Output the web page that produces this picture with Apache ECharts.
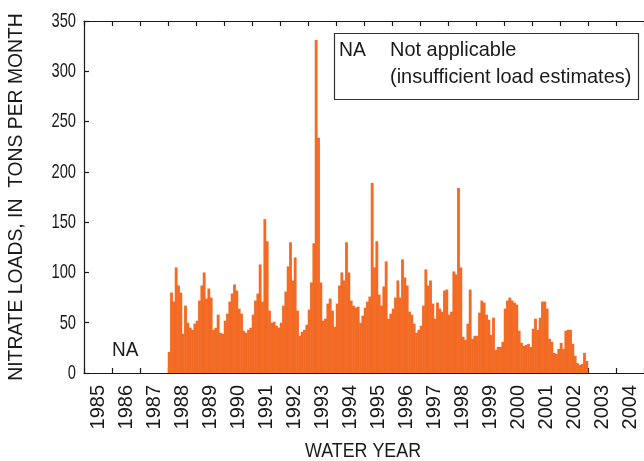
<!DOCTYPE html>
<html>
<head>
<meta charset="utf-8">
<script src="https://cdn.jsdelivr.net/npm/echarts@6/dist/echarts.min.js"></script>
<style>
  html, body { margin: 0; padding: 0; background: #fff; }
  #chart { width: 644px; height: 461px; }
</style>
</head>
<body>
<div id="chart"></div>
<script>
// Water years shown on the axis
const waterYears = ['1985','1986','1987','1988','1989','1990','1991','1992','1993','1994',
                    '1995','1996','1997','1998','1999','2000','2001','2002','2003','2004'];
const monthNames = ['Oct','Nov','Dec','Jan','Feb','Mar','Apr','May','Jun','Jul','Aug','Sep'];
// Load axis tick labels (tons per month)
const loadTicks = [0, 50, 100, 150, 200, 250, 300, 350];

// Monthly nitrate loads (tons per month), October through September of each water year
const wy1988 = [21, 80, 71, 105, 87, 80, 39, 67, 50, 45, 43, 49];
const wy1989 = [52, 72, 87, 100, 74, 84, 75, 43, 45, 58, 40, 39];
const wy1990 = [52, 59, 71, 79, 88, 82, 64, 59, 42, 40, 43, 45];
const wy1991 = [58, 72, 79, 108, 71, 153, 131, 62, 50, 51, 47, 45];
const wy1992 = [50, 67, 81, 106, 130, 92, 115, 62, 37, 41, 43, 48];
const wy1993 = [63, 90, 129, 331, 234, 90, 52, 54, 69, 74, 62, 46];
const wy1994 = [69, 87, 100, 92, 130, 100, 72, 67, 65, 66, 50, 57];
const wy1995 = [65, 71, 76, 189, 105, 131, 78, 67, 86, 111, 54, 59];
const wy1996 = [64, 75, 92, 75, 113, 95, 87, 61, 58, 49, 40, 43];
const wy1997 = [47, 67, 103, 87, 92, 69, 54, 70, 64, 61, 82, 83];
const wy1998 = [58, 61, 101, 98, 184, 105, 36, 33, 49, 83, 34, 37];
const wy1999 = [37, 60, 72, 70, 58, 53, 38, 55, 23, 26, 26, 31];
const wy2000 = [64, 72, 75, 72, 70, 68, 42, 30, 27, 28, 29, 26];
const wy2001 = [44, 54, 43, 55, 71, 71, 64, 34, 31, 20, 19, 24];
const wy2002 = [30, 24, 42, 43, 43, 29, 17, 10, 8, 9, 20, 12];

const loadsByYear = {
  '1988': wy1988, '1989': wy1989, '1990': wy1990, '1991': wy1991, '1992': wy1992,
  '1993': wy1993, '1994': wy1994, '1995': wy1995, '1996': wy1996, '1997': wy1997,
  '1998': wy1998, '1999': wy1999, '2000': wy2000, '2001': wy2001, '2002': wy2002
};

// One category per month across all water years; months without estimates get no bar
const months = [];
const loads = [];
waterYears.forEach(function (y) {
  const vals = loadsByYear[y];
  monthNames.forEach(function (m, i) {
    if (vals) loads.push([months.length, vals[i]]);
    months.push(y + ' ' + m);
  });
});

const FONT = "'Liberation Sans', Arial, sans-serif";
const INK = '#1a1a1a';
const BAR = '#f26a23';

const chart = echarts.init(document.getElementById('chart'), null, { renderer: 'canvas' });

const axisLineStyle = { color: INK, width: 1.2 };

// Monthly bars fill their whole month, overlapping a hair so neighbours join
function renderMonthBar(params, api) {
  const top = api.coord([api.value(0), api.value(1)]);
  const base = api.coord([api.value(0), 0]);
  const w = api.size([1, 0])[0];
  return {
    type: 'rect',
    shape: { x: top[0] - w / 2 - 0.25, y: top[1], width: w + 0.5, height: base[1] - top[1] },
    style: { fill: BAR }
  };
}

chart.setOption({
  animation: false,
  backgroundColor: '#ffffff',
  grid: { left: 84, right: -3, top: 21, bottom: 88, containLabel: false },
  xAxis: [
    { type: 'category', data: months, show: false, boundaryGap: true },
    {
      type: 'category',
      data: waterYears,
      position: 'bottom',
      boundaryGap: true,
      axisLine: { show: true, lineStyle: axisLineStyle },
      axisTick: { show: true, inside: true, length: 5, interval: 0, alignWithLabel: false, lineStyle: axisLineStyle },
      axisLabel: { interval: 0, rotate: 90, margin: 12, fontFamily: FONT, fontSize: 20, color: INK }
    },
    {
      type: 'category',
      data: waterYears,
      position: 'top',
      boundaryGap: true,
      axisLine: { show: true, lineStyle: axisLineStyle },
      axisTick: { show: true, inside: true, length: 5, interval: 0, alignWithLabel: false, lineStyle: axisLineStyle },
      axisLabel: { show: false }
    }
  ],
  yAxis: {
    type: 'value',
    min: 0,
    max: 350,
    interval: 50,
    axisLine: { show: true, lineStyle: axisLineStyle },
    axisTick: { show: true, inside: true, length: 5, lineStyle: axisLineStyle },
    splitLine: { show: false },
    axisLabel: { show: false }
  },
  series: [
    {
      type: 'custom',
      xAxisIndex: 0,
      renderItem: renderMonthBar,
      encode: { x: 0, y: 1 },
      data: loads,
      z: 2
    }
  ]
});

// Condensed text: the sans face is narrowed horizontally
function label(text, x, y, opts) {
  return Object.assign({
    type: 'text', x: x, y: y, z: 11,
    style: Object.assign({ text: text, font: '21px ' + FONT, fill: INK }, opts.style || {})
  }, opts.el || {});
}

const graphics = [];

// Load tick labels placed through the value axis
loadTicks.forEach(function (v) {
  const py = chart.convertToPixel({ yAxisIndex: 0 }, v);
  graphics.push(label(String(v), 76, py, {
    el: { scaleX: 0.7 },
    style: { align: 'right', verticalAlign: 'middle' }
  }));
});

// Axis titles
graphics.push(label('NITRATE LOADS, IN  TONS PER MONTH', 16, 197, {
  el: { rotation: Math.PI / 2, scaleX: 0.92 },
  style: { align: 'center', verticalAlign: 'middle' }
}));
graphics.push(label('WATER YEAR', 363, 451, {
  el: { scaleX: 0.85 },
  style: { align: 'center', verticalAlign: 'middle' }
}));

// Years without load estimates
graphics.push(label('NA', 112, 350, {
  el: { scaleX: 0.95 },
  style: { align: 'left', verticalAlign: 'middle', font: '20px ' + FONT }
}));

// Explanation box
graphics.push({
  type: 'rect', z: 10,
  shape: { x: 334.5, y: 33.5, width: 304, height: 66 },
  style: { fill: '#ffffff', stroke: '#333333', lineWidth: 1.2 }
});
graphics.push(label('NA', 339, 50, { el: { scaleX: 0.92 }, style: { verticalAlign: 'middle' } }));
graphics.push(label('Not applicable', 390, 50, { el: { scaleX: 0.95 }, style: { verticalAlign: 'middle' } }));
graphics.push(label('(insufficient load estimates)', 390, 77, { el: { scaleX: 0.95 }, style: { verticalAlign: 'middle' } }));

chart.setOption({ graphic: graphics });
</script>
</body>
</html>
